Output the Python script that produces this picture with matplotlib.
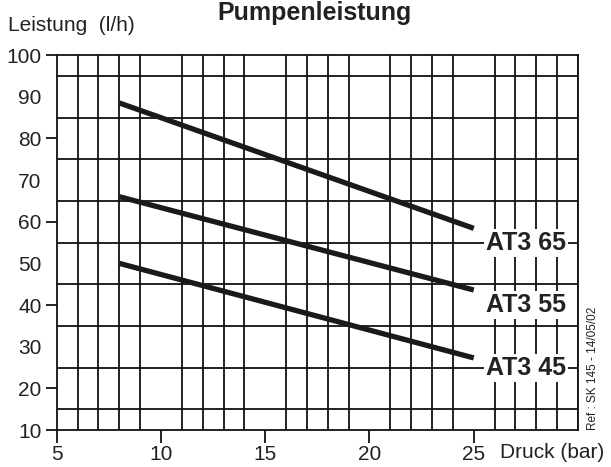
import matplotlib

matplotlib.use("Agg")
import matplotlib.pyplot as plt
import numpy as np

plt.rcParams["font.family"] = ["Liberation Sans", "DejaVu Sans"]

# --- data ---
models = ["AT3 65", "AT3 55", "AT3 45"]
pressure = [8, 25]  # bar
flow = {
    "AT3 65": [88.5, 58.4],
    "AT3 55": [66.0, 43.6],
    "AT3 45": [50.0, 27.3],
}
label_flow = [55, 40, 25]  # where the model names sit
x_ticks = [5, 10, 15, 20, 25]
y_ticks = [10, 20, 30, 40, 50, 60, 70, 80, 90, 100]
y_marked = [10, 20, 40, 60, 80, 100]

INK = "#111111"
TXT = "#222222"

fig = plt.figure(figsize=(6.11, 4.67), dpi=100)
ax = fig.add_axes([0.0928, 0.0792, 0.8532, 0.803])

ax.set_xlim(5, 30)
ax.set_ylim(10, 100)

# square grid: 1 bar x 5 l/h
ax.set_xticks(np.arange(5, 31, 1), minor=True)
ax.set_yticks(np.arange(10, 101, 5), minor=True)
ax.grid(which="minor", color=INK, linewidth=1.3)
ax.set_axisbelow(True)
ax.tick_params(which="minor", length=0)

ax.set_xticks(x_ticks)
ax.set_xticklabels([str(v) for v in x_ticks])
ax.set_yticks(y_ticks)
ax.set_yticklabels([str(v) for v in y_ticks])
ax.tick_params(axis="x", length=9, width=1.3, color=INK, labelsize=15,
               labelcolor=TXT, pad=2)
ax.tick_params(axis="y", length=8, width=1.3, color=INK, labelsize=15,
               labelcolor=TXT, pad=3)
for v, t in zip(y_ticks, ax.yaxis.get_major_ticks()):
    if v not in y_marked:
        t.tick1line.set_visible(False)

for s in ax.spines.values():
    s.set_color(INK)
    s.set_linewidth(1.3)

for name, ly in zip(models, label_flow):
    ax.plot(pressure, flow[name], color="#1a1a1a", linewidth=3.8,
            solid_capstyle="butt", zorder=3)
    ax.text(27.5, ly, name, ha="center", va="center", fontsize=18,
            fontweight="bold", color=TXT, zorder=4,
            bbox=dict(facecolor="white", edgecolor="none", pad=1.5))

fig.text(0.515, 0.958, "Pumpenleistung", ha="center", va="baseline",
         fontsize=18, fontweight="bold", color=TXT)
fig.text(0.013, 0.945, "Leistung  (l/h)", ha="left", va="center",
         fontsize=15, color=TXT)
fig.text(0.818, 0.03, "Druck (bar)", ha="left", va="center",
         fontsize=15, color=TXT)
fig.text(0.97, 0.079, "Ref : SK 145 - 14/05/02", rotation=90, ha="center",
         va="bottom", fontsize=8.5, color=TXT)

fig.savefig("out.png", dpi=100)
